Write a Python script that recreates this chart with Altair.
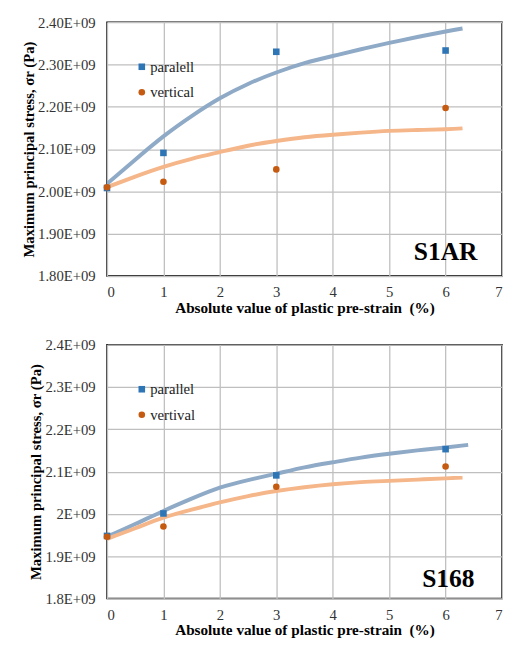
import altair as alt
import pandas as pd

# ---------- data ----------
strain_pts = [0, 1, 3, 6]

# S1AR
s1_par = [2.008e9, 2.091e9, 2.330e9, 2.333e9]
s1_ver = [2.010e9, 2.023e9, 2.052e9, 2.197e9]
s1_fit_x = [0, 0.5, 1, 1.5, 2, 2.5, 3, 3.5, 4, 4.5, 5, 5.5, 6, 6.3]
s1_par_fit = [2.018e9, 2.075e9, 2.130e9, 2.178e9, 2.220e9, 2.254e9, 2.281e9, 2.303e9,
              2.320e9, 2.336e9, 2.351e9, 2.365e9, 2.378e9, 2.385e9]
s1_ver_fit = [2.010e9, 2.035e9, 2.058e9, 2.077e9, 2.093e9, 2.108e9, 2.119e9, 2.128e9,
              2.134e9, 2.139e9, 2.143e9, 2.145e9, 2.147e9, 2.149e9]

# S168
s2_par = [1.948e9, 2.001e9, 2.091e9, 2.153e9]
s2_ver = [1.946e9, 1.970e9, 2.064e9, 2.112e9]
s2_fit_x = [0, 0.5, 1, 1.5, 2, 2.5, 3, 3.5, 4, 4.5, 5, 5.5, 6, 6.4]
s2_par_fit = [1.946e9, 1.976e9, 2.007e9, 2.036e9, 2.062e9, 2.080e9, 2.095e9, 2.110e9,
              2.122e9, 2.133e9, 2.142e9, 2.150e9, 2.157e9, 2.163e9]
s2_fit_x2 = [0, 0.5, 1, 1.5, 2, 2.5, 3, 3.5, 4, 4.5, 5, 5.5, 6, 6.3]
s2_ver_fit = [1.941e9, 1.966e9, 1.991e9, 2.010e9, 2.027e9, 2.042e9, 2.054e9, 2.063e9,
              2.070e9, 2.075e9, 2.078e9, 2.081e9, 2.084e9, 2.086e9]

x_ticks = [0, 1, 2, 3, 4, 5, 6, 7]
y_ticks = [1.8e9, 1.9e9, 2.0e9, 2.1e9, 2.2e9, 2.3e9, 2.4e9]

FONT = "'Liberation Serif', 'Times New Roman', serif"
BLUE = "#2E75B6"
ORANGE = "#C55A11"
BLUE_FIT = "#8FAAC6"
ORANGE_FIT = "#F5B68A"


def panel(par, ver, fx1, pfit, fx2, vfit, names, label, label_expr, lx, ly):
    pts = pd.DataFrame({
        "x": strain_pts * 2,
        "y": par + ver,
        "s": [names[0]] * 4 + [names[1]] * 4,
    })
    f1 = pd.DataFrame({"x": fx1, "y": pfit})
    f2 = pd.DataFrame({"x": fx2, "y": vfit})

    xenc = alt.X("x:Q", scale=alt.Scale(domain=[0, 7], nice=False),
                 axis=alt.Axis(values=x_ticks, format="d",
                               title="Absolute value of plastic pre-strain\u00a0 (%)"))
    yenc = alt.Y("y:Q", scale=alt.Scale(domain=[1.8e9, 2.4e9], nice=False, zero=False),
                 axis=alt.Axis(values=y_ticks, labelExpr=label_expr,
                               title="Maximum principal stress, σr (Pa)"))

    l1 = alt.Chart(f1).mark_line(color=BLUE_FIT, strokeWidth=4, interpolate="natural",
                                 clip=True).encode(x=xenc, y=yenc)
    l2 = alt.Chart(f2).mark_line(color=ORANGE_FIT, strokeWidth=4, interpolate="natural",
                                 clip=True).encode(x=xenc, y=yenc)
    p = alt.Chart(pts).mark_point(filled=True, size=45, opacity=1).encode(
        x=xenc, y=yenc,
        color=alt.Color("s:N", scale=alt.Scale(domain=names, range=[BLUE, ORANGE]),
                        legend=alt.Legend(title=None, orient="none", legendX=28, legendY=38,
                                          labelFont=FONT, labelFontSize=15, labelColor="#222",
                                          symbolSize=45, rowPadding=10, labelOffset=1)),
        shape=alt.Shape("s:N", scale=alt.Scale(domain=names, range=["square", "circle"])),
    )
    t = alt.Chart(pd.DataFrame({"t": [label]})).mark_text(
        font=FONT, fontSize=26, fontWeight="bold", align="right", baseline="alphabetic",
        color="#000").encode(text="t:N", x=alt.value(lx), y=alt.value(ly))
    return alt.layer(l1, l2, p, t).properties(width=403, height=259).resolve_scale(
        color="independent", shape="independent")


top = panel(s1_par, s1_ver, s1_fit_x, s1_par_fit, s1_fit_x, s1_ver_fit,
            ["paralell", "vertical"], "S1AR",
            "format(datum.value / 1e9, '.2f') + 'E+09'", 378, 243)
bot = panel(s2_par, s2_ver, s2_fit_x, s2_par_fit, s2_fit_x2, s2_ver_fit,
            ["parallel", "vertival"], "S168",
            "(round(datum.value / 1e8) / 10) + 'E+09'", 375, 247)

chart = alt.vconcat(top, bot, spacing=20).resolve_scale(
    color="independent", shape="independent").resolve_legend(
    color="independent", shape="independent").configure_view(
    stroke="#000", strokeWidth=1.5).configure_axis(
    labelFont=FONT, labelFontSize=15, labelColor="#333",
    titleFont=FONT, titleFontSize=15, titleFontWeight="bold", titleColor="#000",
    ticks=False, domain=False, gridColor="#BFBFBF", gridWidth=1.3).configure_axisX(
    labelPadding=9, titlePadding=1, titleFontSize=15.5).configure_axisY(
    labelPadding=12, titlePadding=1).properties(
    background="white", padding={"left": 13, "top": 0, "right": 0, "bottom": 0})

chart.save("out.html", embed_options={"renderer": "svg", "actions": False})
